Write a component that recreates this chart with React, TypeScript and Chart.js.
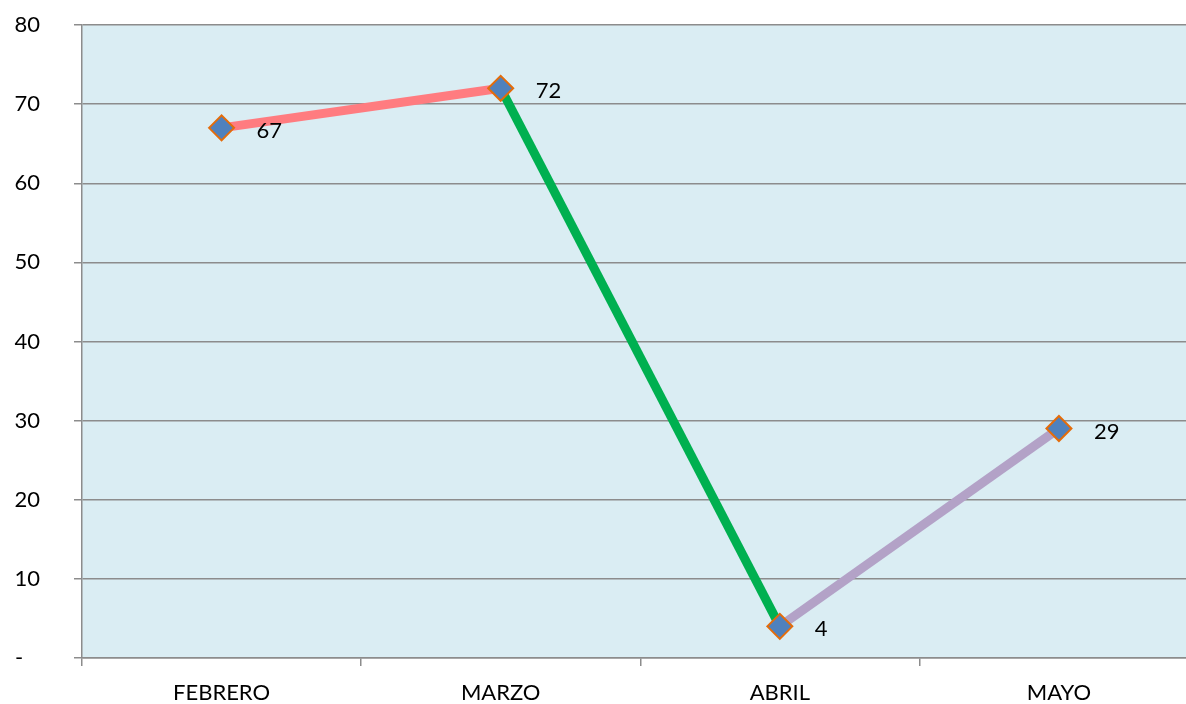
import React, { useEffect, useRef } from "react";
import { Chart, registerables } from "chart.js";

Chart.register(...registerables);

const categories = ["FEBRERO", "MARZO", "ABRIL", "MAYO"];
const values = [67, 72, 4, 29];
const segmentColors = ["#FF7C80", "#00B050", "#B3A2C7"];
const yTickValues = [0, 10, 20, 30, 40, 50, 60, 70, 80];

const FONT = "Lato, 'Liberation Sans', sans-serif";
const GRID = "#8c8c8c";

const bgPlugin = {
  id: "plotBg",
  beforeDraw(chart: any) {
    const { ctx, chartArea } = chart;
    ctx.save();
    ctx.fillStyle = "#DAEDF3";
    ctx.fillRect(chartArea.left, chartArea.top, chartArea.right - chartArea.left, chartArea.bottom - chartArea.top);
    ctx.restore();
  },
};

const labelPlugin = {
  id: "valueLabels",
  afterDatasetsDraw(chart: any) {
    const { ctx } = chart;
    const meta = chart.getDatasetMeta(0);
    ctx.save();
    ctx.font = "22px " + FONT;
    ctx.fillStyle = "#000";
    ctx.textAlign = "left";
    ctx.textBaseline = "middle";
    meta.data.forEach((pt: any, i: number) => {
      ctx.fillText(String(values[i]), pt.x + 35, pt.y + 3);
    });
    ctx.restore();
  },
};

export default function App() {
  const ref = useRef<HTMLCanvasElement>(null);
  useEffect(() => {
    if (!ref.current) return;
    const chart = new Chart(ref.current, {
      type: "line",
      data: {
        labels: categories,
        datasets: [
          {
            data: values,
            borderWidth: 9,
            borderColor: segmentColors[0],
            segment: {
              borderColor: (c: any) => segmentColors[c.p0DataIndex],
            },
            pointStyle: "rectRot",
            pointRadius: 12.5,
            pointBackgroundColor: "#4F81BD",
            pointBorderColor: "#E46C0A",
            pointBorderWidth: 2,
            tension: 0,
          },
        ],
      },
      options: {
        responsive: false,
        animation: false,
        layout: { padding: { top: 25, right: 0, left: 0, bottom: 0 } },
        plugins: { legend: { display: false }, tooltip: { enabled: false } },
        scales: {
          x: {
            offset: true,
            grid: {
              offset: true,
              drawOnChartArea: false,
              drawTicks: true,
              tickLength: 8,
              color: GRID,
              lineWidth: 1.5,
            },
            border: { display: true, color: GRID, width: 1.5 },
            ticks: {
              color: "#000",
              font: { family: FONT, size: 22 },
              padding: 14,
              maxRotation: 0,
            },
            afterFit: (s: any) => {
              s.height = 46;
              s.paddingLeft = 0;
              s.paddingRight = 0;
            },
          },
          y: {
            min: 0,
            max: 80,
            afterBuildTicks: (s: any) => {
              s.ticks = yTickValues.map((v) => ({ value: v }));
            },
            grid: { color: GRID, lineWidth: 1.5, tickLength: 8 },
            border: { display: true, color: GRID, width: 1.5 },
            ticks: {
              color: "#000",
              font: { family: FONT, size: 22 },
              padding: 34,
              callback: (v: any) => (Number(v) === 0 ? "-   " : String(v)),
            },
            afterFit: (s: any) => {
              s.width = 82;
              s.paddingTop = 12;
              s.paddingBottom = 12;
            },
          },
        },
      },
      plugins: [bgPlugin, labelPlugin],
    });
    return () => chart.destroy();
  }, []);
  return (
    <div style={{ position: "fixed", left: 0, top: 0, width: 1186, height: 704, overflow: "hidden", background: "#fff" }}>
      <canvas ref={ref} width={1213} height={704} style={{ display: "block" }} />
    </div>
  );
}
